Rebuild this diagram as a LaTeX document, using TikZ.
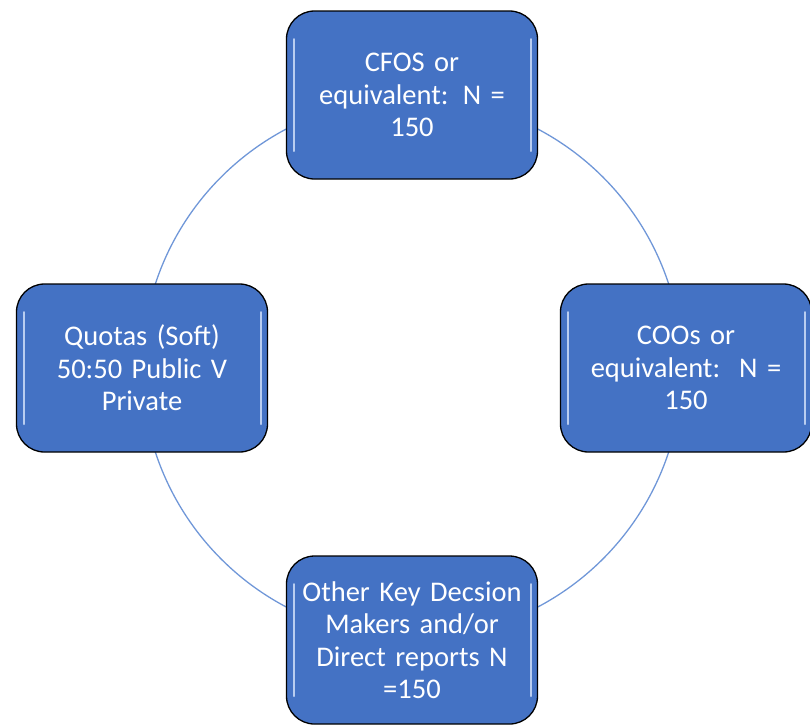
\documentclass[tikz,border=0pt]{standalone}
\usepackage{fontspec}
\setmainfont{Carlito}[WordSpace=0.9]
\usetikzlibrary{positioning}

\definecolor{boxblue}{HTML}{4472C4}
\definecolor{ringblue}{HTML}{7097D8}
\definecolor{glint}{HTML}{B9CDF0}

\begin{document}
\begin{tikzpicture}[
  x=1pt, y=-1pt,
  stage/.style={draw=black, line width=1.3pt, fill=boxblue, rounded corners=28pt,
    minimum width=251pt, minimum height=168pt, text width=236pt, align=center,
    text=white, font=\fontsize{28.5}{32.5}\selectfont,
    path picture={
      \draw[glint, line width=2pt, line cap=round]
        ([xshift=7pt, yshift=-28pt]path picture bounding box.north west) --
        ([xshift=7pt, yshift=28pt]path picture bounding box.south west);
      \draw[glint, line width=2pt, line cap=round]
        ([xshift=-7pt, yshift=-28pt]path picture bounding box.north east) --
        ([xshift=-7pt, yshift=28pt]path picture bounding box.south east);
    }},
  ring/.style={draw=ringblue, line width=1.3pt}
]
\useasboundingbox (0,0) rectangle (810,724);

% Cycle behind the boxes
\coordinate (centre) at (412,368);
\draw[ring] (centre) circle (270);

% Stages
\node[stage] (cfos) at (412,95) {CFOS or\\equivalent: N =\\150};
\node[stage] (coos) at (686,368) {COOs or\\equivalent:\ \ N =\\150};
\node[stage] (others) at (412,640) {Other Key Decsion\\Makers and/or\\Direct reports N\\=150};
\node[stage] (quotas) at (142,368) {Quotas (Soft)\\50:50 Public V\\Private};

\end{tikzpicture}
\end{document}
